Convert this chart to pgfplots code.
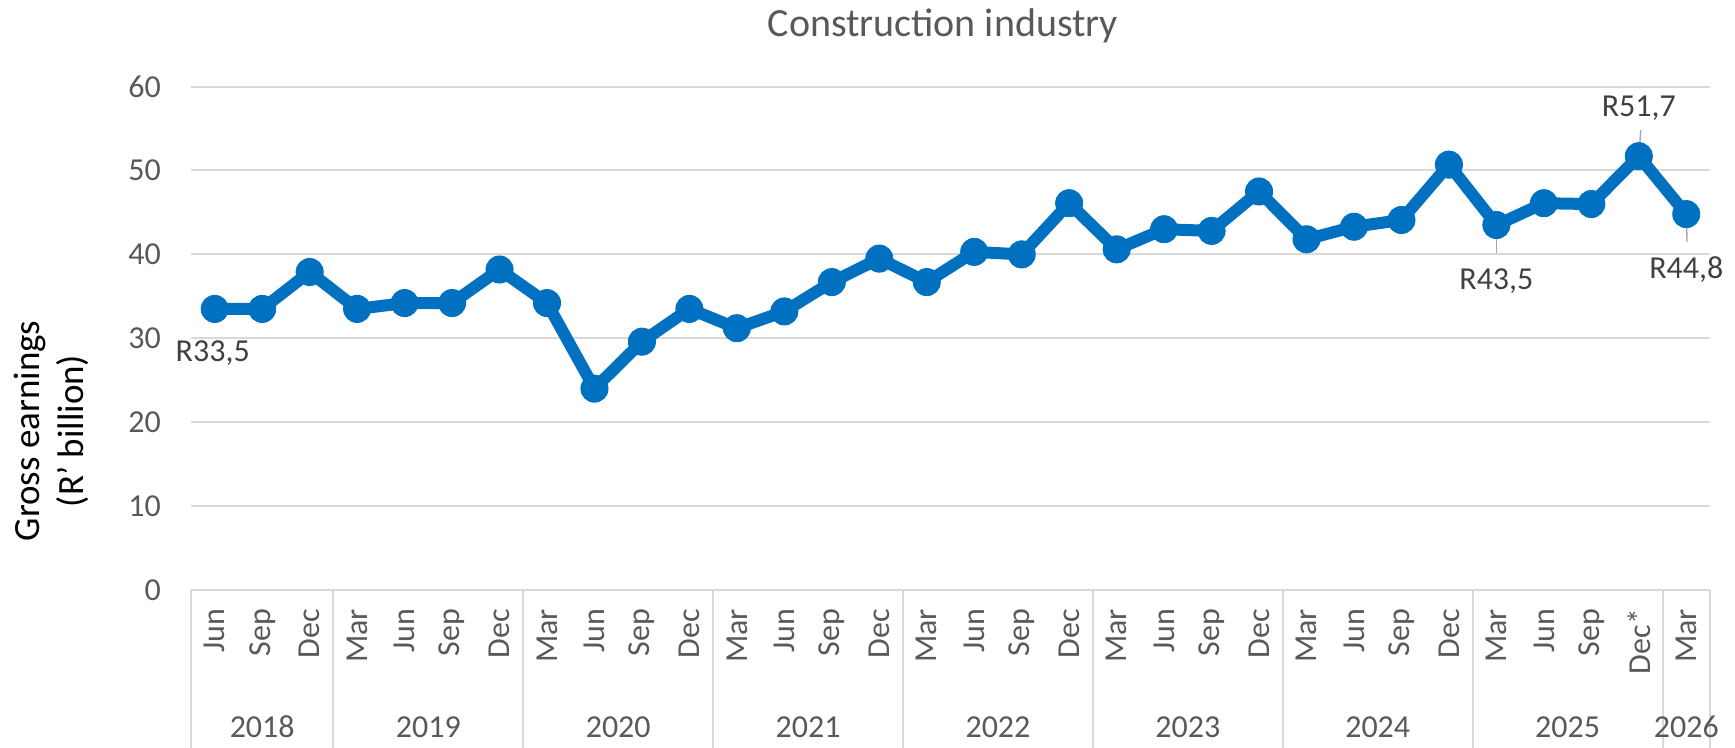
\documentclass[border=0pt]{standalone}
\usepackage{fontspec}
\setmainfont{Carlito}
\usepackage{pgfplots}
\pgfplotsset{compat=1.18}
\definecolor{lineblue}{HTML}{0070C0}
\definecolor{gridgray}{HTML}{D9D9D9}
\definecolor{txtgray}{HTML}{595959}
\definecolor{lblgray}{HTML}{404040}
\definecolor{leadgray}{HTML}{A6A6A6}
\begin{document}
\begin{tikzpicture}
\path[use as bounding box] (-95.5pt,-79pt) rectangle (772pt,295pt);
\begin{axis}[
  at={(0,0)}, anchor=south west,
  scale only axis, width=759.5pt, height=251.7pt,
  xmin=-0.5, xmax=31.5, ymin=0, ymax=60,
  ytick={0,10,...,60},
  xtick={0,...,31},
  xticklabels={Jun,Sep,Dec,Mar,Jun,Sep,Dec,Mar,Jun,Sep,Dec,Mar,Jun,Sep,Dec,Mar,Jun,Sep,Dec,Mar,Jun,Sep,Dec,Mar,Jun,Sep,Dec,Mar,Jun,Sep,Dec*,Mar},
  axis line style={draw=none},
  major tick length=0pt,
  ymajorgrids, grid style={gridgray, line width=1pt},
  tick label style={font=\fontsize{16}{19}\selectfont, text=txtgray},
  xticklabel style={yshift=-6pt, rotate=90, anchor=east},
  yticklabel style={xshift=-11.5pt},
  /pgf/number format/assume math mode=true,
  clip=false,
]
\addplot[lineblue, line width=6pt, line join=round, mark=*, mark size=6.8pt,
  mark options={fill=lineblue, draw=lineblue, line width=0.4pt, solid}]
coordinates {
(0,33.5) (1,33.5) (2,37.9) (3,33.5) (4,34.2) (5,34.2) (6,38.2) (7,34.2)
(8,24.0) (9,29.6) (10,33.5) (11,31.2) (12,33.2) (13,36.7) (14,39.5) (15,36.7)
(16,40.3) (17,40.0) (18,46.1) (19,40.6) (20,43.0) (21,42.8) (22,47.5) (23,41.8)
(24,43.3) (25,44.1) (26,50.7) (27,43.5) (28,46.1) (29,46.0) (30,51.7) (31,44.8)
};
% category table separators
\pgfplotsinvokeforeach{-0.5,2.5,6.5,10.5,14.5,18.5,22.5,26.5,30.5,31.5}{
  \draw[gridgray, line width=1pt] (axis cs:#1,0) -- ([yshift=-79pt]axis cs:#1,0);
}
% year labels
\pgfplotsset{/tikz/yearlbl/.style={anchor=base, font=\fontsize{16}{19}\selectfont, text=txtgray}}
\node[yearlbl] at ([yshift=-74pt]axis cs:1,0) {2018};
\node[yearlbl] at ([yshift=-74pt]axis cs:4.5,0) {2019};
\node[yearlbl] at ([yshift=-74pt]axis cs:8.5,0) {2020};
\node[yearlbl] at ([yshift=-74pt]axis cs:12.5,0) {2021};
\node[yearlbl] at ([yshift=-74pt]axis cs:16.5,0) {2022};
\node[yearlbl] at ([yshift=-74pt]axis cs:20.5,0) {2023};
\node[yearlbl] at ([yshift=-74pt]axis cs:24.5,0) {2024};
\node[yearlbl] at ([yshift=-74pt]axis cs:28.5,0) {2025};
\node[yearlbl] at ([yshift=-74pt]axis cs:31,0) {2026};
% title
\node[anchor=base, font=\fontsize{20}{24}\selectfont, text=txtgray] at ([yshift=276.7pt]rel axis cs:0.495,0) {Construction industry};
% y label
\node[rotate=90, align=center, font=\fontsize{18.5}{22}\selectfont, text=black] at ([xshift=-70pt]rel axis cs:0,0.316) {Gross earnings\\(R’ billion)};
% data labels
\pgfplotsset{/tikz/datalbl/.style={anchor=base, font=\fontsize{16}{19}\selectfont, text=lblgray}}
\node[datalbl] at ([xshift=-1pt,yshift=-26.4pt]axis cs:0,33.5) {R33,5};
\draw[leadgray, line width=0.7pt] (axis cs:27,43.5) -- ([yshift=-13.8pt]axis cs:27,43.5);
\node[datalbl] at ([yshift=-32.2pt]axis cs:27,43.5) {R43,5};
\draw[leadgray, line width=0.7pt] (axis cs:30,51.7) -- ([xshift=1pt,yshift=13pt]axis cs:30,51.7);
\node[datalbl] at ([yshift=19.7pt]axis cs:30,51.7) {R51,7};
\draw[leadgray, line width=0.7pt] (axis cs:31,44.8) -- ([xshift=0.4pt,yshift=-13.8pt]axis cs:31,44.8);
\node[datalbl] at ([yshift=-32.2pt]axis cs:31,44.8) {R44,8};
\end{axis}
\end{tikzpicture}
\end{document}
